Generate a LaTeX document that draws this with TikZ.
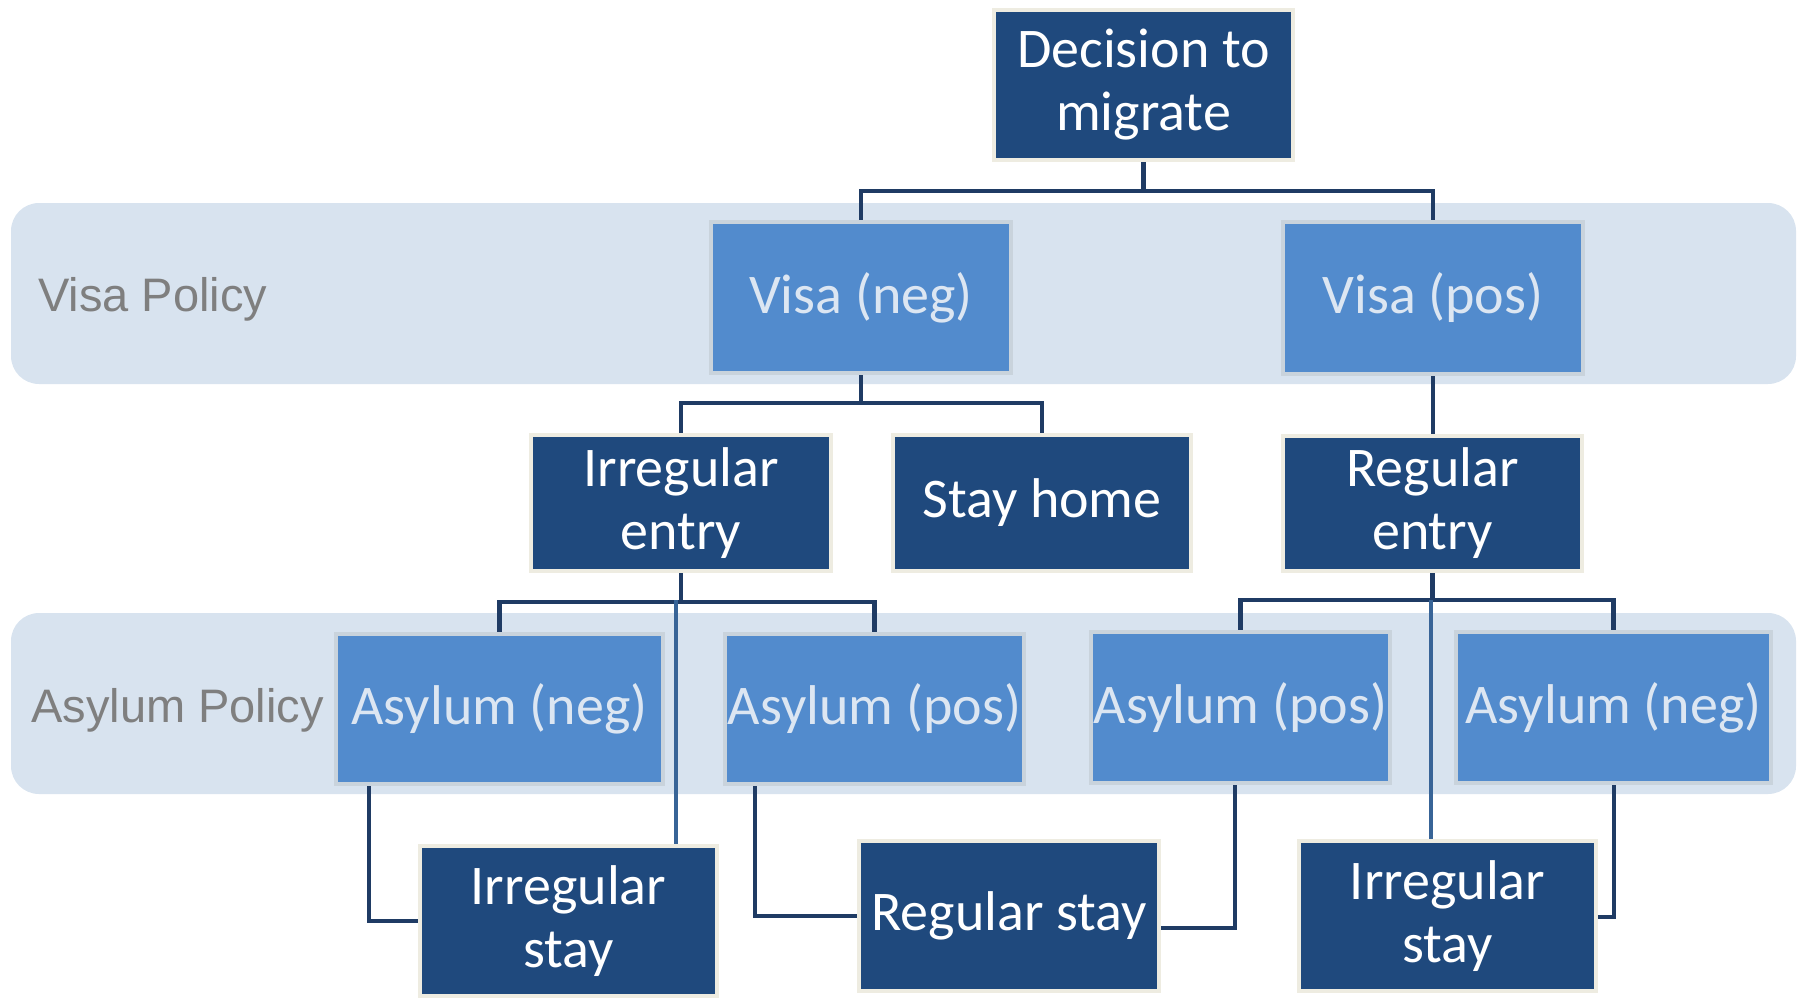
\documentclass[tikz,border=0pt]{standalone}
\usepackage{fontspec}
\setmainfont{Carlito}
\newfontfamily\labelfont{Liberation Sans}
\definecolor{cDark}{HTML}{1F497D}
\definecolor{cCream}{HTML}{EEECE1}
\definecolor{cLight}{HTML}{528BCD}
\definecolor{cLightBorder}{HTML}{C9D3DC}
\definecolor{cLightText}{HTML}{DCE6F2}
\definecolor{cBand}{HTML}{D8E3EF}
\definecolor{cConn}{HTML}{1F3B64}
\definecolor{cConnLight}{HTML}{386497}
\definecolor{cLabel}{HTML}{7F7F7F}
\begin{document}
\begin{tikzpicture}[x=0.5pt,y=-0.5pt,
  box/.style={rectangle, line width=2pt, inner sep=0pt, align=center,
    font=\fontsize{28pt}{31.5pt}\selectfont},
  dbox/.style={box, fill=cDark, draw=cCream, text=white},
  lbox/.style={box, fill=cLight, draw=cLightBorder, text=cLightText},
  wh/.style 2 args={minimum width=#1, minimum height=#2},
  conn/.style={draw=cConn, line width=2.4pt},
  connl/.style={draw=cConnLight, line width=2.4pt},
  band/.style={fill=cBand, rounded corners=14pt},
  plabel/.style={anchor=base west, inner sep=0pt, text=cLabel,
    font=\labelfont\fontsize{23.5pt}{28pt}\selectfont}]
\useasboundingbox (0,0) rectangle (1797,1001);
% bands
\fill[band] (11,203) rectangle (1796,384);
\fill[band] (11,613) rectangle (1796,794);
\node[plabel] (vp) at (38,311) {Visa Policy};
\node[plabel] (ap) at (31,722) {Asylum Policy};
% nodes
\node[dbox, wh={149.5pt}{75pt}] (dec) at (1143.5,85) {Decision to\\migrate};
\node[lbox, wh={150pt}{75.5pt}] (visaneg) at (861,297.5) {Visa (neg)};
\node[lbox, wh={150pt}{76pt}] (visapos) at (1433,298) {Visa (pos)};
\node[dbox, wh={150pt}{68pt}] (irrentry) at (681,503) {Irregular\\entry};
\node[dbox, wh={149pt}{68pt}] (stayhome) at (1042,503) {Stay home};
\node[dbox, wh={149.5pt}{67.5pt}] (regentry) at (1432.5,503.5) {Regular\\entry};
\node[lbox, wh={163.5pt}{75pt}] (asyneg1) at (499.5,709) {Asylum (neg)};
\node[lbox, wh={149.5pt}{75pt}] (asypos1) at (874.5,709) {Asylum (pos)};
\node[lbox, wh={149.5pt}{75.5pt}] (asypos2) at (1240.5,707.5) {Asylum (pos)};
\node[lbox, wh={157.5pt}{75.5pt}] (asyneg2) at (1613.5,707.5) {Asylum (neg)};
\node[dbox, wh={148.5pt}{75pt}] (irrstay1) at (568.5,921) {Irregular\\stay};
\node[dbox, wh={150pt}{75pt}] (regstay) at (1009,916) {Regular stay};
\node[dbox, wh={148.5pt}{75pt}] (irrstay2) at (1447.5,916) {Irregular\\stay};
% connector points
\coordinate (j0) at (1143.5,191);
\coordinate (j1) at (861,403);
\coordinate (j2) at (681,602);
\coordinate (j3) at (1432.5,600);
\coordinate (l1) at (676,600);
\coordinate (l2) at (1431,600);
\coordinate (b1) at (369,921);
\coordinate (b2) at (755,916);
\coordinate (b3) at (1235,928);
\coordinate (b4) at (1614,917);
% connectors
\draw[conn] (dec) -- (j0) -| (visaneg);
\draw[conn] (j0) -| (visapos);
\draw[conn] (visaneg) -- (j1) -| (irrentry);
\draw[conn] (j1) -| (stayhome);
\draw[conn] (visapos.south) -- (visapos.south |- regentry.north);
\draw[conn] (irrentry) -- (j2) -| (asyneg1);
\draw[conn] (j2) -| (asypos1);
\draw[conn] (regentry) -- (j3) -| (asypos2);
\draw[conn] (j3) -| (asyneg2);
\draw[connl] (l1) -- (l1 |- irrstay1.north);
\draw[connl] (l2) -- (l2 |- irrstay2.north);
\draw[conn] (b1 |- asyneg1.south) -- (b1) -- (irrstay1.west);
\draw[conn] (b2 |- asypos1.south) -- (b2) -- (regstay.west);
\draw[conn] (b3 |- asypos2.south) -- (b3) -- (b3 -| regstay.east);
\draw[conn] (b4 |- asyneg2.south) -- (b4) -- (b4 -| irrstay2.east);
\end{tikzpicture}
\end{document}
